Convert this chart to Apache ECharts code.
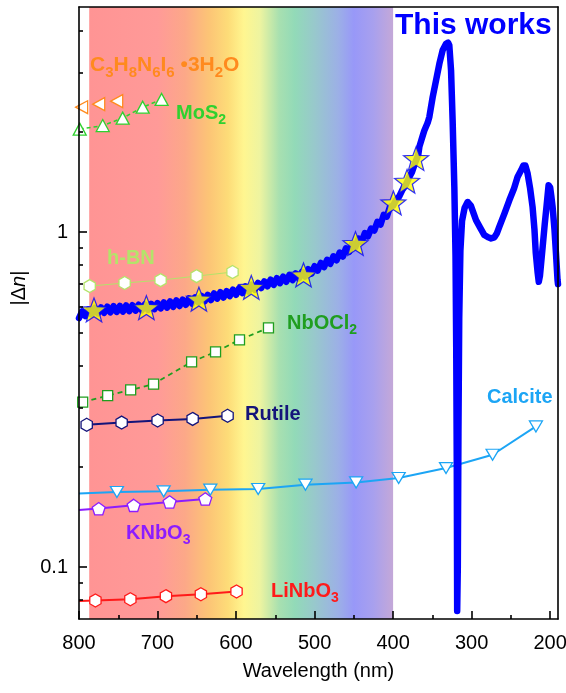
<!DOCTYPE html>
<html>
<head>
<meta charset="utf-8">
<script src="https://cdn.jsdelivr.net/npm/echarts@6/dist/echarts.min.js"></script>
<style>
  html, body { margin: 0; padding: 0; background: #fff; }
  #grafico { width: 566px; height: 693px; }
</style>
</head>
<body>
<div id="grafico"></div>
<script>
// Datos: longitud de onda (nm) y |Δn|

// Curva azul "This works" (la parte visible es ruidosa)
var thisNm = [800, 796, 792, 788, 784, 780, 776, 772, 768, 764, 760, 756, 752, 748, 744, 740, 736, 732, 728, 724,
  720, 716, 712, 708, 704, 700, 696, 692, 688, 684, 680, 676, 672, 668, 664, 660, 656, 652, 648, 644,
  640, 636, 632, 628, 624, 620, 616, 612, 608, 604, 600, 596, 592, 588, 584, 580, 576, 572, 568, 564,
  560, 556, 552, 548, 544, 540, 536, 532, 528, 524, 520, 516, 512, 508, 504, 500, 496, 492, 488, 484,
  480, 476, 472, 468, 464, 460, 456, 452, 448, 444, 440, 436, 432, 428, 424, 420, 416, 412, 408, 404,
  400, 396, 392, 388, 384, 380, 376, 372, 368, 366.5, 362, 360.2, 356, 353.8, 349.6, 345.3, 341.1, 336.9, 332.6, 330,
  328.4, 326.2, 324.2, 322, 320.5, 319.6, 318.9, 318.4, 317.6, 316.8, 315.8, 314.3, 312.2, 309, 305.1, 301, 294.4, 289, 283.8, 279,
  275.3, 271, 268, 264.8, 258, 252, 246, 241.5, 237, 234.2, 231.5, 228.8, 225.5, 222.4, 220, 218.3, 216, 214.5, 213, 210,
  207, 204.5, 202, 200, 198.5, 196.9, 194.5, 192.6, 190.6, 190];
var thisVal = [0.554, 0.580, 0.562, 0.588, 0.568, 0.594, 0.572, 0.596, 0.574, 0.599, 0.576, 0.601, 0.578, 0.602, 0.579, 0.604, 0.581, 0.605, 0.583, 0.607,
  0.584, 0.609, 0.586, 0.611, 0.589, 0.614, 0.592, 0.617, 0.595, 0.621, 0.598, 0.625, 0.602, 0.629, 0.607, 0.634, 0.612, 0.639, 0.617, 0.645,
  0.622, 0.650, 0.627, 0.656, 0.633, 0.662, 0.638, 0.667, 0.644, 0.673, 0.650, 0.680, 0.658, 0.689, 0.665, 0.697, 0.673, 0.705, 0.681, 0.713,
  0.689, 0.721, 0.696, 0.729, 0.704, 0.736, 0.711, 0.745, 0.719, 0.753, 0.727, 0.761, 0.737, 0.775, 0.752, 0.791, 0.768, 0.809, 0.786, 0.827,
  0.804, 0.847, 0.824, 0.869, 0.846, 0.895, 0.874, 0.924, 0.902, 0.957, 0.936, 0.993, 0.971, 1.025, 1.011, 1.074, 1.053, 1.126, 1.113, 1.191,
  1.20, 1.25, 1.28, 1.34, 1.38, 1.45, 1.51, 1.61, 1.70, 1.80, 1.95, 2.01, 2.12, 2.21, 2.53, 2.84, 3.18, 3.49, 3.65, 3.68,
  3.61, 3.04, 2.16, 1.36, 0.85, 0.45, 0.2, 0.074, 0.1, 0.25, 0.55, 0.88, 1.08, 1.18, 1.23, 1.20, 1.086, 1.03, 0.98, 0.965,
  0.958, 0.965, 0.99, 1.037, 1.14, 1.245, 1.35, 1.46, 1.53, 1.58, 1.58, 1.50, 1.35, 1.19, 1.02, 0.866, 0.76, 0.711, 0.74, 0.88,
  1.05, 1.20, 1.38, 1.36, 1.28, 1.19, 1.02, 0.866, 0.72, 0.70];

// Estrellas amarillas sobre la curva
var estrellaNm = [780.9, 714.2, 647.3, 580.6, 514.1, 447.9, 399.6, 382.2, 370.7];
var estrellaVal = [0.586, 0.595, 0.631, 0.684, 0.745, 0.925, 1.223, 1.419, 1.658];

// Materiales de referencia
var c3h8Nm = [796.6, 774.9, 752.0];
var c3h8Val = [2.36, 2.41, 2.46];

var mos2Nm = [799.1, 769.8, 744.4, 718.9, 694.8];
var mos2Val = [2.03, 2.08, 2.19, 2.36, 2.49];

var hbnNm = [786.4, 741.9, 696.1, 650.3, 604.5];
var hbnVal = [0.690, 0.705, 0.719, 0.739, 0.760];

var nbocl2Nm = [795.3, 763.5, 734.2, 705.0, 656.6, 626.1, 595.6, 558.7];
var nbocl2Val = [0.311, 0.325, 0.338, 0.352, 0.410, 0.439, 0.477, 0.518];

var rutiloNm = [790.2, 745.7, 699.9, 655.3, 610.8];
var rutiloVal = [0.266, 0.270, 0.274, 0.277, 0.283];

// el primer punto (800 nm) sólo lleva la línea, sin marcador
var calcitaNm = [800, 751.7, 692.2, 632.8, 571.8, 511.6, 447.1, 392.9, 332.6, 273.3, 218.1];
var calcitaVal = [0.166, 0.1676, 0.1684, 0.1703, 0.1711, 0.1762, 0.179, 0.1845, 0.1976, 0.2165, 0.263];

var knbo3Nm = [800, 774.9, 730.4, 684.6, 639.2];
var knbo3Val = [0.148, 0.1495, 0.1529, 0.1565, 0.1598];

var linbo3Nm = [800, 779.1, 734.6, 689.3, 644.8, 599.4];
var linbo3Val = [0.0792, 0.0795, 0.0802, 0.0819, 0.0830, 0.0846];

// Marcas de los ejes
var ticksX = [200, 300, 400, 500, 600, 700, 800];
var ticksXMenores = [250, 350, 450, 550, 650, 750];
var ticksY = [0.1, 1];
var ticksYMenores = [0.08, 0.09, 0.2, 0.3, 0.4, 0.5, 0.6, 0.7, 0.8, 0.9, 2, 3, 4];

// Rango de los ejes
var minX = 190, maxX = 800;
var minY = 0.07, maxY = 4.7;

// Franja del espectro visible (nm)
var visibleDesde = 787;
var visibleHasta = 400;

var fuente = '"Liberation Sans", Arial, sans-serif';

// Símbolos dibujados como path
var hexagono = 'path://M0,-10L8.66,-5L8.66,5L0,10L-8.66,5L-8.66,-5Z';
var pentagono = 'path://M0,-10L9.51,-3.09L5.88,8.09L-5.88,8.09L-9.51,-3.09Z';
var estrella = 'path://M0,-10L2.47,-3.4L9.51,-3.09L3.99,1.3L5.88,8.09L0,4.2L-5.88,8.09L-3.99,1.3L-9.51,-3.09L-2.47,-3.4Z';

function pares(nm, val) {
  return nm.map(function (x, i) { return [x, val[i]]; });
}

function paresSinPrimero(nm, val) {
  var d = pares(nm, val);
  d[0] = { value: d[0], symbol: 'none' };
  return d;
}

function serie(nombre, datos, color, simbolo, tam, extra) {
  var s = {
    name: nombre,
    type: 'line',
    data: datos,
    symbol: simbolo,
    symbolSize: tam,
    symbolKeepAspect: true,
    showAllSymbol: true,
    z: 2,
    lineStyle: { color: color, width: 2 },
    itemStyle: { color: '#ffffff', borderColor: color, borderWidth: 1.3 }
  };
  return Object.assign(s, extra || {});
}

function etiqueta(texto, x, y, color, tam, tamSub) {
  return {
    type: 'text', x: x, y: y, z: 100, silent: true,
    style: {
      text: texto, fill: color,
      fontSize: tam || 20, fontWeight: 'bold', fontFamily: fuente,
      align: 'left', verticalAlign: 'middle',
      rich: {
        s: { fontSize: tamSub || 14, fontWeight: 'bold', fontFamily: fuente, fill: color, padding: [15, 0, 0, 0] }
      }
    }
  };
}

// Degradado del arco iris
var degradado = {
  type: 'linear', x: 0, y: 0, x2: 1, y2: 0,
  colorStops: [
    { offset: 0, color: '#ff9494' },
    { offset: 0.225, color: '#ff9a98' },
    { offset: 0.315, color: '#fca888' },
    { offset: 0.393, color: '#fcc476' },
    { offset: 0.457, color: '#fddc78' },
    { offset: 0.509, color: '#fff690' },
    { offset: 0.561, color: '#eef4a0' },
    { offset: 0.625, color: '#a8e0b0' },
    { offset: 0.677, color: '#92dab8' },
    { offset: 0.742, color: '#98c8cc' },
    { offset: 0.819, color: '#9cb0e6' },
    { offset: 0.871, color: '#9898f8' },
    { offset: 0.935, color: '#a8a0ee' },
    { offset: 1, color: '#c4a8d8' }
  ]
};

var lineaEje = { show: true, onZero: false, lineStyle: { color: '#000', width: 1.6 } };
var sinEje = { show: false, onZero: false };
var trazoMarca = { color: '#000', width: 1.6 };

function ejeX(extra) {
  return Object.assign({
    type: 'value', min: minX, max: maxX, inverse: true, z: 10,
    splitLine: { show: false }
  }, extra);
}

function ejeY(extra) {
  return Object.assign({
    type: 'log', logBase: 10, min: minY, max: maxY, z: 10,
    splitLine: { show: false }
  }, extra);
}

var grafico = echarts.init(document.getElementById('grafico'));

var opciones = {
  animation: false,
  backgroundColor: '#ffffff',
  textStyle: { fontFamily: fuente },
  grid: { left: 79, right: 8, top: 7, bottom: 74, outerBoundsMode: 'none' },
  xAxis: [
    ejeX({
      position: 'bottom',
      name: 'Wavelength (nm)', nameLocation: 'middle', nameGap: 42,
      nameTextStyle: { fontSize: 20, color: '#000', fontFamily: fuente },
      axisLine: lineaEje,
      axisTick: { show: true, inside: true, length: 8, customValues: ticksX, lineStyle: trazoMarca },
      axisLabel: { customValues: ticksX, fontSize: 20, color: '#000', margin: 14, fontFamily: fuente }
    }),
    ejeX({
      position: 'bottom',
      axisLine: sinEje,
      axisTick: { show: true, inside: true, length: 4, customValues: ticksXMenores, lineStyle: trazoMarca },
      axisLabel: { show: false }
    }),
    ejeX({
      position: 'top',
      axisLine: lineaEje,
      axisTick: { show: false },
      axisLabel: { show: false }
    })
  ],
  yAxis: [
    ejeY({
      position: 'left',
      name: '|Δ{i|n}|', nameLocation: 'middle', nameGap: 46, nameRotate: 90,
      nameTextStyle: {
        fontSize: 20, color: '#000', fontFamily: fuente, padding: [0, 0, 0, 50],
        rich: { i: { fontSize: 20, fontStyle: 'italic', fontFamily: fuente, color: '#000' } }
      },
      axisLine: lineaEje,
      axisTick: { show: true, inside: true, length: 8, customValues: ticksY, lineStyle: trazoMarca },
      axisLabel: {
        customValues: ticksY, fontSize: 20, color: '#000', margin: 11, fontFamily: fuente,
        formatter: function (v) { return String(+(+v).toPrecision(3)); }
      }
    }),
    ejeY({
      position: 'left',
      axisLine: sinEje,
      axisTick: { show: true, inside: true, length: 4, customValues: ticksYMenores, lineStyle: trazoMarca },
      axisLabel: { show: false }
    }),
    ejeY({
      position: 'right',
      axisLine: lineaEje,
      axisTick: { show: false },
      axisLabel: { show: false }
    })
  ],
  graphic: [
    etiqueta('This works', 395, 26, '#0000ff', 30),
    etiqueta('C{s|3}H{s|8}N{s|6}I{s|6} •3H{s|2}O', 90, 65, '#ff8a1e', 21, 15),
    etiqueta('MoS{s|2}', 176, 113, '#2fd12f'),
    etiqueta('h-BN', 107, 258, '#b4e36a'),
    etiqueta('NbOCl{s|2}', 287, 323, '#1f9e1f'),
    etiqueta('Rutile', 245, 414, '#14147a'),
    etiqueta('Calcite', 487, 397, '#1ca5f5'),
    etiqueta('KNbO{s|3}', 126, 533, '#8c1cff'),
    etiqueta('LiNbO{s|3}', 271, 591, '#ff1a1a')
  ],
  series: [
    {
      // fondo: espectro visible
      name: 'visible', type: 'line', data: [[800, 1]], symbol: 'none', z: 0, silent: true,
      lineStyle: { opacity: 0 },
      markArea: {
        silent: true,
        label: { show: false },
        itemStyle: { color: degradado, opacity: 1 },
        data: [[{ xAxis: visibleDesde }, { xAxis: visibleHasta }]]
      }
    },
    serie('C3H8N6I6·3H2O', pares(c3h8Nm, c3h8Val), '#ff8a1e', 'triangle', [13, 12],
      { symbolRotate: 90, lineStyle: { width: 0, opacity: 0 } }),
    serie('MoS2', pares(mos2Nm, mos2Val), '#2fd12f', 'triangle', [13, 12],
      { lineStyle: { color: '#2fd12f', width: 1.5, type: [4, 3] } }),
    serie('h-BN', pares(hbnNm, hbnVal), '#b4e36a', hexagono, 13,
      { lineStyle: { color: '#b4e36a', width: 1 } }),
    serie('NbOCl2', pares(nbocl2Nm, nbocl2Val), '#1f9e1f', 'rect', 10,
      { lineStyle: { color: '#1f9e1f', width: 1.8, type: [5, 4] } }),
    serie('Rutile', pares(rutiloNm, rutiloVal), '#14147a', hexagono, 13),
    serie('Calcite', paresSinPrimero(calcitaNm, calcitaVal), '#1ca5f5', 'triangle', [13, 11],
      { symbolRotate: 180 }),
    serie('KNbO3', paresSinPrimero(knbo3Nm, knbo3Val), '#8c1cff', pentagono, 13),
    serie('LiNbO3', paresSinPrimero(linbo3Nm, linbo3Val), '#ff1a1a', hexagono, 13),
    {
      name: 'This works', type: 'line', data: pares(thisNm, thisVal), symbol: 'none', z: 3,
      lineStyle: { color: '#0000ff', width: 6.5, cap: 'round', join: 'round' }
    },
    {
      name: 'estrellas', type: 'scatter', data: pares(estrellaNm, estrellaVal), z: 4,
      symbol: estrella, symbolSize: 25, symbolKeepAspect: true,
      itemStyle: { color: '#ffff00', borderColor: '#0000ff', borderWidth: 1.2 }
    }
  ]
};

grafico.setOption(opciones);
</script>
</body>
</html>
